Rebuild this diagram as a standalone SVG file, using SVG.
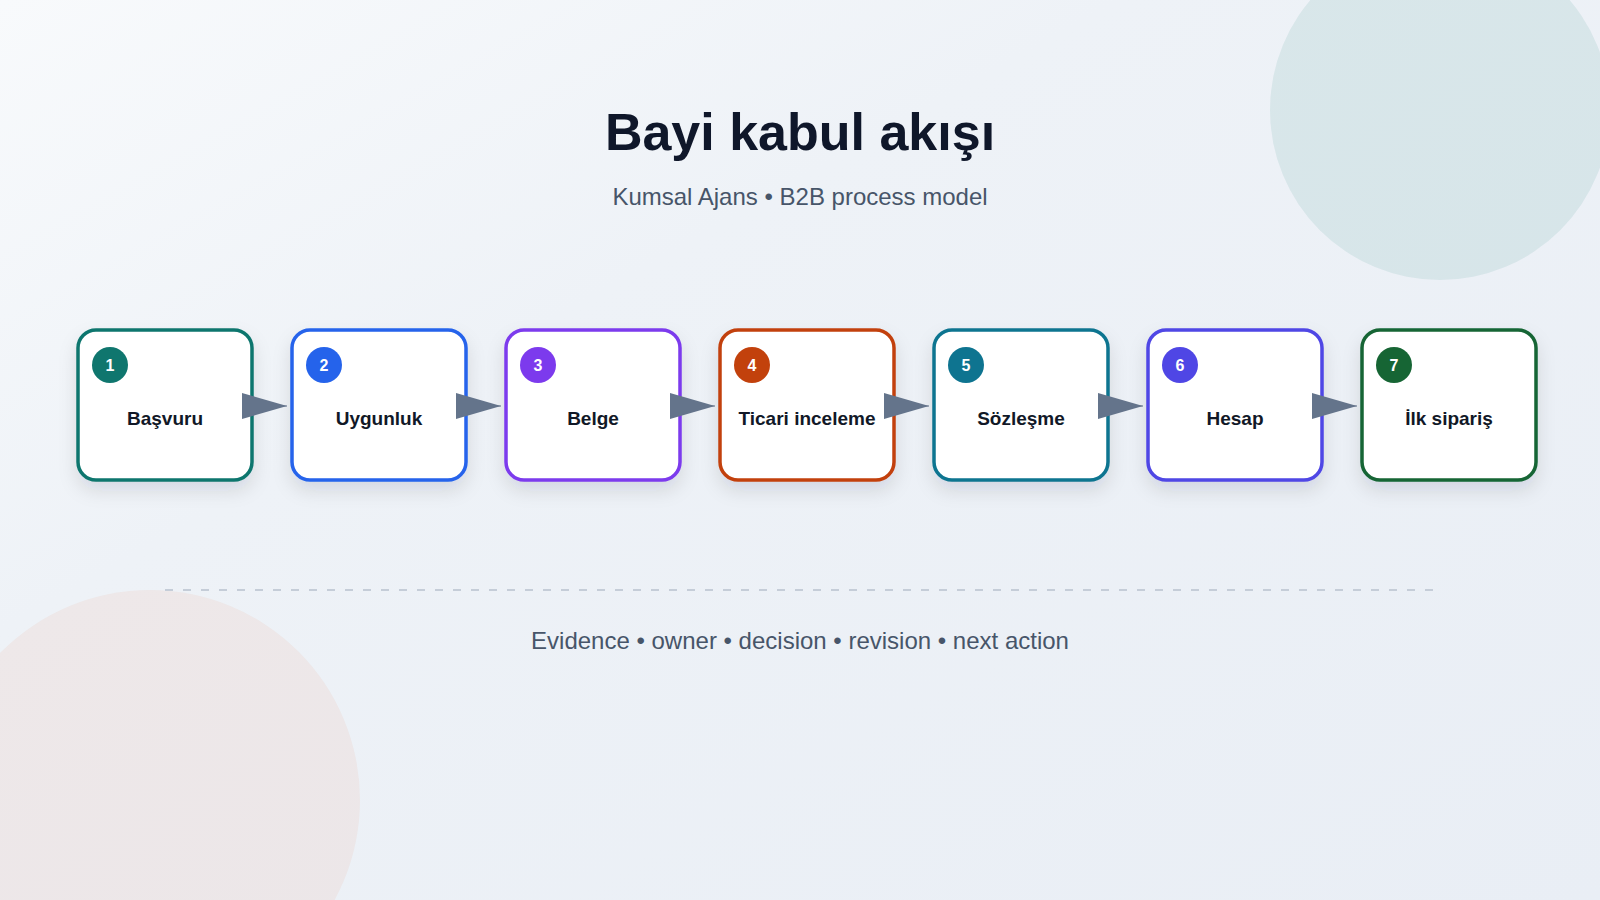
<svg xmlns="http://www.w3.org/2000/svg" width="1600" height="900" viewBox="0 0 1600 900">
  <defs>
    <linearGradient id="bg" x1="0" y1="0" x2="1" y2="1">
      <stop offset="0" stop-color="#f8fafc"/>
      <stop offset="0.35" stop-color="#eef2f7"/>
      <stop offset="1" stop-color="#e9eef5"/>
    </linearGradient>
    <filter id="shadow" x="-20%" y="-20%" width="140%" height="150%">
      <feDropShadow dx="0" dy="9" stdDeviation="9" flood-color="#0f172a" flood-opacity="0.11"/>
    </filter>
    <marker id="arrow" markerUnits="userSpaceOnUse" markerWidth="46" markerHeight="27" refX="45" refY="13" orient="auto">
      <path d="M0,0 L45,13 L0,26 z" fill="#64748b"/>
    </marker>
    <style>
      .box { fill: #ffffff; stroke-width: 3.5; filter: url(#shadow); }
      .num { font-family: "Liberation Sans", Arial, sans-serif; font-weight: 700; font-size: 16px; fill: #ffffff; text-anchor: middle; }
      .lbl { font-family: "Liberation Sans", Arial, sans-serif; font-weight: 700; font-size: 19px; fill: #111827; text-anchor: middle; }
      .conn { stroke: #64748b; stroke-width: 1; fill: none; marker-end: url(#arrow); }
      .title { font-family: "Liberation Sans", Arial, sans-serif; font-weight: 700; font-size: 52px; fill: #0f172a; text-anchor: middle; }
      .sub { font-family: "Liberation Sans", Arial, sans-serif; font-size: 24px; fill: #475569; text-anchor: middle; }
    </style>
  </defs>

  <rect width="1600" height="900" fill="url(#bg)"/>
  <circle cx="1440" cy="110" r="170" fill="#0f766e" opacity="0.09"/>
  <circle cx="150" cy="800" r="210" fill="#ea580c" opacity="0.06"/>

  <text class="title" x="800" y="150">Bayi kabul akışı</text>
  <text class="sub" x="800" y="205">Kumsal Ajans • B2B process model</text>

  <g id="node-1">
    <rect class="box" x="78" y="330" width="174" height="150" rx="18" stroke="#0f766e"/>
    <circle cx="110" cy="365" r="18" fill="#0f766e"/>
    <text class="num" x="110" y="371">1</text>
    <text class="lbl" x="165" y="425">Başvuru</text>
  </g>
  <g id="node-2">
    <rect class="box" x="292" y="330" width="174" height="150" rx="18" stroke="#2563eb"/>
    <circle cx="324" cy="365" r="18" fill="#2563eb"/>
    <text class="num" x="324" y="371">2</text>
    <text class="lbl" x="379" y="425">Uygunluk</text>
  </g>
  <g id="node-3">
    <rect class="box" x="506" y="330" width="174" height="150" rx="18" stroke="#7c3aed"/>
    <circle cx="538" cy="365" r="18" fill="#7c3aed"/>
    <text class="num" x="538" y="371">3</text>
    <text class="lbl" x="593" y="425">Belge</text>
  </g>
  <g id="node-4">
    <rect class="box" x="720" y="330" width="174" height="150" rx="18" stroke="#c2410c"/>
    <circle cx="752" cy="365" r="18" fill="#c2410c"/>
    <text class="num" x="752" y="371">4</text>
    <text class="lbl" x="807" y="425">Ticari inceleme</text>
  </g>
  <g id="node-5">
    <rect class="box" x="934" y="330" width="174" height="150" rx="18" stroke="#0e7490"/>
    <circle cx="966" cy="365" r="18" fill="#0e7490"/>
    <text class="num" x="966" y="371">5</text>
    <text class="lbl" x="1021" y="425">Sözleşme</text>
  </g>
  <g id="node-6">
    <rect class="box" x="1148" y="330" width="174" height="150" rx="18" stroke="#4f46e5"/>
    <circle cx="1180" cy="365" r="18" fill="#4f46e5"/>
    <text class="num" x="1180" y="371">6</text>
    <text class="lbl" x="1235" y="425">Hesap</text>
  </g>
  <g id="node-7">
    <rect class="box" x="1362" y="330" width="174" height="150" rx="18" stroke="#166534"/>
    <circle cx="1394" cy="365" r="18" fill="#166534"/>
    <text class="num" x="1394" y="371">7</text>
    <text class="lbl" x="1449" y="425">İlk sipariş</text>
  </g>

  <g id="connectors">
    <line class="conn" x1="250" y1="406" x2="287" y2="406"/>
    <line class="conn" x1="464" y1="406" x2="501" y2="406"/>
    <line class="conn" x1="678" y1="406" x2="715" y2="406"/>
    <line class="conn" x1="892" y1="406" x2="929" y2="406"/>
    <line class="conn" x1="1106" y1="406" x2="1143" y2="406"/>
    <line class="conn" x1="1320" y1="406" x2="1357" y2="406"/>
  </g>

  <line x1="165" y1="590" x2="1435" y2="590" stroke="#c5cdd8" stroke-width="2" stroke-dasharray="8 10"/>
  <text class="sub" x="800" y="649">Evidence • owner • decision • revision • next action</text>
</svg>
